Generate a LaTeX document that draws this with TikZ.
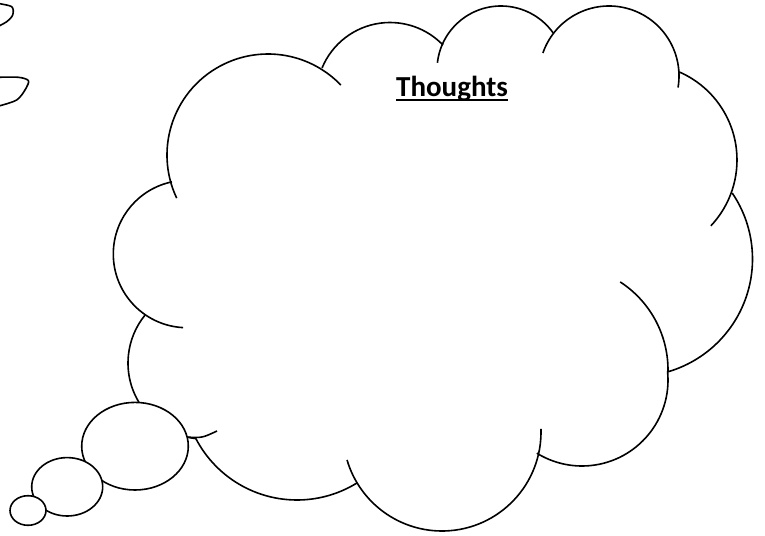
\documentclass[tikz,border=0pt]{standalone}
\usepackage{fontspec}
\setmainfont{Carlito}
\newcommand\cloudarc[5]{\draw[cloudline] ([shift={(#4:#3)}]#1,#2) arc[start angle=#4, end angle=#5, radius=#3];}
\begin{document}
\begin{tikzpicture}[x=1pt,y=-1pt,
  cloudline/.style={draw=black, line width=1.6pt},
  bubble/.style={draw=black, fill=white, line width=1.6pt},
  title/.style={font=\fontsize{29}{32}\selectfont\bfseries, inner sep=0pt, anchor=base west}]
\useasboundingbox (0,0) rectangle (765,535);
\clip (0,0) rectangle (765,535);
% fragments at top-left edge
\draw[cloudline] plot[smooth] coordinates {(-3,3.3) (11.7,6.7) (12.7,15) (6.7,21.7) (-3,27)};
\draw[cloudline] plot[smooth] coordinates {(-3,77.3) (18.3,77.3) (28.3,80.5) (26,88.3) (16.7,100) (-3,106.5)};
% cloud lobes
\cloudarc{187}{254}{73.7}{93}{258.2}
\cloudarc{268}{155}{101}{154.7}{316.2}
\cloudarc{390}{96}{73.5}{202.4}{316.1}
\cloudarc{501}{70}{64}{186.5}{324.6}
\cloudarc{609}{76}{70}{199.2}{369.5}
\cloudarc{641}{160}{96}{293.4}{403.3}
\cloudarc{635}{259}{117.5}{-34.2}{74.2}
\cloudarc{563}{370}{105}{-57}{1.1}
\cloudarc{582}{380}{86}{-5.4}{121.7}
\cloudarc{442}{432}{99}{-1.8}{163.6}
\cloudarc{297}{386}{114}{58.3}{152.8}
\cloudarc{204}{363}{76}{96.1}{219.1}
\coordinate (f10a) at (186,437);
\coordinate (f10b) at (217,431);
\draw[cloudline] (f10a) .. controls (202,438) .. (f10b);
% tail bubbles
\draw[bubble] (135,446.2) ellipse [x radius=53.3, y radius=43.8];
\draw[bubble] (67.2,486.8) ellipse [x radius=35.5, y radius=29.2];
\draw[bubble] (28,510.5) ellipse [x radius=18, y radius=14.8];
% title
\node[title] (t) at (396,96.5) {Thoughts};
\draw[line width=2pt] ([yshift=-3.8pt]t.base west) -- ([yshift=-3.8pt]t.base east);
\end{tikzpicture}
\end{document}
